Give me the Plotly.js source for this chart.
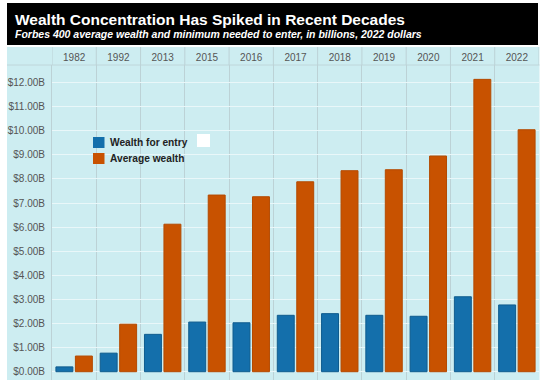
<!DOCTYPE html>
<html>
<head>
<meta charset="utf-8">
<script src="https://cdn.plot.ly/plotly-3.0.1.min.js"></script>
<style>html,body{margin:0;padding:0;background:#fff;}#chart{width:543px;height:386px;}</style>
</head>
<body>
<div id="chart"></div>
<script>
// ---- data ----
var years = ["1982","1992","2013","2015","2016","2017","2018","2019","2020","2021","2022"];
var entryWealth = [0.20, 0.77, 1.55, 2.06, 2.03, 2.34, 2.41, 2.34, 2.30, 3.11, 2.77];
var averageWealth = [0.65, 1.97, 6.12, 7.33, 7.26, 7.88, 8.34, 8.38, 8.95, 12.13, 10.04];
var yTickVals = [0,1,2,3,4,5,6,7,8,9,10,11,12];
var yTickText = yTickVals.map(function(v){ return "$" + v.toFixed(2) + "B"; });
var seriesNames = ["Wealth for entry", "Average wealth"];
var seriesColors = ["#146fab", "#c85200"];
var seriesLines = ["#0f5c8e", "#b44a00"];
var titleText = "Wealth Concentration Has Spiked in Recent Decades";
var subtitleText = "Forbes 400 average wealth and minimum needed to enter, in billions, 2022 dollars";

// ---- layout helpers (pixel -> paper) ----
var L = 52, R = 539, T = 65, B = 380;
var W = 543, H = 386;
function px(x){ return (x - L) / (R - L); }
function py(y){ return (B - y) / (B - T); }

var FONT = "Liberation Sans, Arial, sans-serif";
var CYAN = "#cdedf1";

var traces = [entryWealth, averageWealth].map(function(vals, i){
  return {
    type: "bar",
    x: years,
    y: vals,
    name: seriesNames[i],
    marker: {color: seriesColors[i], line: {color: seriesLines[i], width: 1}},
    hoverinfo: "x+y+name",
    showlegend: false
  };
});

var shapes = [
  {type:"rect", xref:"paper", yref:"paper", x0:px(7), x1:px(539.5), y0:py(47), y1:py(380), fillcolor:CYAN, line:{width:0}, layer:"below"},
  {type:"rect", xref:"paper", yref:"paper", x0:px(7), x1:px(538), y0:py(3), y1:py(45), fillcolor:"#000", line:{width:0}, layer:"below"},
  {type:"line", xref:"paper", yref:"paper", x0:px(7), x1:px(539.5), y0:py(65), y1:py(65), line:{color:"#bfd6da", width:1}, layer:"below"},
  {type:"rect", xref:"paper", yref:"paper", x0:px(197), x1:px(210), y0:py(134), y1:py(147), fillcolor:"#ffffff", line:{width:0}, layer:"above"}
];
for (var i = 0; i <= years.length; i++) {
  shapes.push({type:"line", xref:"x", yref:"paper", x0:i-0.5, x1:i-0.5, y0:py(65), y1:py(47), line:{color:"#bcd2d6", width:1}, layer:"below"});
}
var legY = [142.5, 158.5];
seriesNames.forEach(function(n, i){
  shapes.push({type:"rect", xref:"paper", yref:"paper", x0:px(93), x1:px(104.5), y0:py(legY[i]-5.5), y1:py(legY[i]+5.5), fillcolor:seriesColors[i], line:{width:0}, layer:"above"});
});

var annotations = [
  {xref:"paper", yref:"paper", x:px(13), y:py(19), xanchor:"left", yanchor:"middle", showarrow:false, text:"<b>"+titleText+"</b>", font:{family:FONT, size:15.5, color:"#fff"}},
  {xref:"paper", yref:"paper", x:px(13), y:py(34), xanchor:"left", yanchor:"middle", showarrow:false, text:"<b><i>"+subtitleText+"</i></b>", font:{family:FONT, size:10.5, color:"#fff"}}
];
seriesNames.forEach(function(n, i){
  annotations.push({xref:"paper", yref:"paper", x:px(108), y:py(legY[i]), xanchor:"left", yanchor:"middle", showarrow:false, text:"<b>"+n+"</b>", font:{family:FONT, size:10.2, color:"#222"}});
});

var layout = {
  width: W, height: H,
  margin: {l: L, r: W - R, t: T, b: H - B, pad: 0},
  paper_bgcolor: "#ffffff",
  plot_bgcolor: CYAN,
  barmode: "group",
  bargap: 0.12,
  bargroupgap: 0.13,
  showlegend: false,
  font: {family: FONT, color: "#555"},
  xaxis: {
    type: "category",
    side: "top",
    range: [-0.5, years.length - 0.5],
    tickson: "boundaries",
    ticks: "",
    showgrid: true,
    gridcolor: "#bcd2d6",
    gridwidth: 1,
    showline: false,
    zeroline: false,
    tickfont: {family: FONT, size: 10, color: "#555"},
    ticklabelstandoff: 1,
    fixedrange: true
  },
  yaxis: {
    range: [-0.344, 12.726],
    tickmode: "array",
    tickvals: yTickVals,
    ticktext: yTickText,
    ticks: "",
    showgrid: true,
    gridcolor: "#e9f7f9",
    gridwidth: 1,
    zeroline: false,
    showline: true,
    linecolor: "#bcd2d6",
    linewidth: 1,
    tickfont: {family: FONT, size: 10, color: "#555"},
    ticklabelstandoff: 4,
    fixedrange: true
  },
  shapes: shapes,
  annotations: annotations
};

Plotly.newPlot("chart", traces, layout, {displayModeBar: false, staticPlot: true});
</script>
</body>
</html>
